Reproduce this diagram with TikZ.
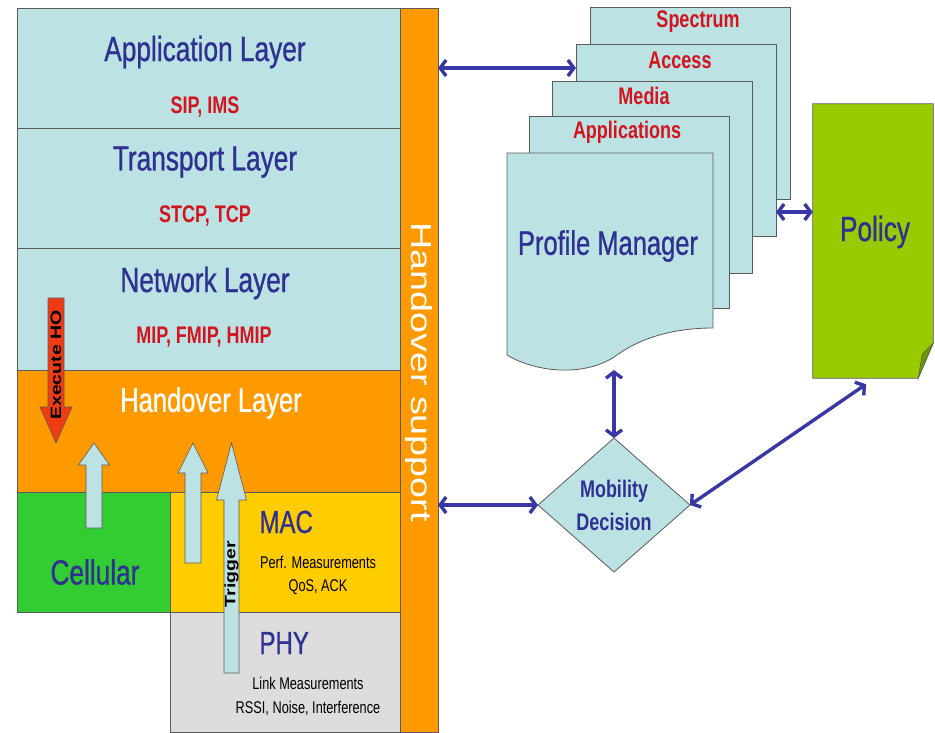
\documentclass[tikz,border=0pt]{standalone}
\usepackage{fontspec}
\setmainfont[FakeStretch=0.75]{Liberation Sans}
\newfontfamily\titlefont[FakeStretch=0.75,FakeBold=0.8]{Liberation Sans}
\newfontfamily\widefont[FakeStretch=1.3]{Liberation Sans}
\usetikzlibrary{shapes.geometric,arrows.meta}
\definecolor{layerblue}{RGB}{188,226,228}
\definecolor{hoorange}{RGB}{255,153,0}
\definecolor{cellgreen}{RGB}{51,204,51}
\definecolor{macyellow}{RGB}{255,204,0}
\definecolor{phygray}{RGB}{221,221,221}
\definecolor{polgreen}{RGB}{153,204,0}
\definecolor{foldgreen}{RGB}{110,150,0}
\definecolor{titleblue}{RGB}{46,49,146}
\definecolor{protored}{RGB}{210,20,30}
\definecolor{linkblue}{RGB}{55,55,165}
\definecolor{edgegray}{RGB}{90,90,90}
\definecolor{exred}{RGB}{240,60,20}
\newcommand{\tsize}[1]{\fontsize{#1}{#1}\selectfont}
\newcommand{\blockarrow}[7]{\filldraw[#1] ({#2-#6},#3) -- ({#2-#6},#4) -- ({#2-#7},#4) -- (#2,#5) -- ({#2+#7},#4) -- ({#2+#6},#4) -- ({#2+#6},#3) -- cycle;}

\begin{document}
\begin{tikzpicture}[x=1pt,y=-1pt,
    box/.style={draw=edgegray,line width=0.8pt,inner sep=0pt,outer sep=0pt},
    layer/.style={box,fill=layerblue,minimum width=383pt,minimum height=120pt},
    page/.style={box,fill=layerblue,minimum width=200pt,minimum height=192pt},
    title/.style={text=titleblue,font={\titlefont\tsize{35}}},
    proto/.style={text=protored,font={\bfseries\tsize{24}}},
    small/.style={text=black,font={\tsize{17}}},
    link/.style={draw=linkblue,line width=3.4pt,{Straight Barb[length=6pt,width=16pt]}-{Straight Barb[length=6pt,width=16pt]}}]
  \useasboundingbox (0,0) rectangle (935,732);

  % protocol stack
  \node[layer] (app) at (208.5,68) {};
  \node[layer] (trans) at (208.5,188) {};
  \node[layer,minimum height=122pt] (net) at (208.5,309) {};
  \node[layer,fill=hoorange,minimum height=122pt] (ho) at (208.5,431) {};
  \node[box,fill=cellgreen,minimum width=153pt,minimum height=120pt] (cell) at (93.5,552) {};
  \node[box,fill=macyellow,minimum width=230pt,minimum height=120pt] (mac) at (285,552) {};
  \node[box,fill=phygray,minimum width=230pt,minimum height=120pt] (phy) at (285,672) {};
  \node[box,fill=hoorange,minimum width=38pt,minimum height=724pt] (bar) at (419,370) {};

  \node[title] (apptxt) at (205,52) {Application Layer};
  \node[proto] (appsub) at (205,107) {SIP, IMS};
  \node[title] (transtxt) at (205,162) {Transport Layer};
  \node[proto] (transsub) at (205,216) {STCP, TCP};
  \node[title] (nettxt) at (205,283) {Network Layer};
  \node[proto] (netsub) at (204,337) {MIP, FMIP, HMIP};
  \node[title,text=white,font={\titlefont\tsize{34}}] (hotxt) at (211,403) {Handover Layer};
  \node[title] (celltxt) at (95,572) {Cellular};
  \node[title,anchor=west,font={\titlefont\tsize{32}}] (mactxt) at (256,522) {MAC};
  \node[small] (macsub1) at (318,562) {Perf. Measurements};
  \node[small] (macsub2) at (318,587) {QoS, ACK};
  \node[title,anchor=west,font={\titlefont\tsize{32}}] (phytxt) at (256,643) {PHY};
  \node[small] (physub1) at (308,683) {Link Measurements};
  \node[small] (physub2) at (308,708) {RSSI, Noise, Interference};
  \node[rotate=-90,text=white,font={\widefont\tsize{29}}] (bartxt) at (419,372) {Handover support};

  % block arrows
  \blockarrow{draw=edgegray,line width=0.6pt,fill=exred}{56}{298}{407}{443}{8}{16}
  \blockarrow{draw=edgegray,line width=0.6pt,fill=layerblue}{94}{528}{465}{443}{8}{15.5}
  \blockarrow{draw=edgegray,line width=0.6pt,fill=layerblue}{193}{563}{473}{443}{8}{15}
  \blockarrow{draw=edgegray,line width=0.6pt,fill=layerblue}{231.5}{673}{500}{443}{7.5}{15}
  \node[rotate=90,font={\widefont\bfseries\tsize{15}}] (exho) at (56,365) {Execute HO};
  \node[rotate=90,font={\widefont\bfseries\tsize{15}}] (trig) at (231.5,574) {Trigger};

  % profile pages
  \node[page] (spec) at (690.5,103.5) {};
  \node[page] (access) at (676,140.5) {};
  \node[page] (media) at (652.5,177) {};
  \node[page] (apps) at (629,212.5) {};
  \filldraw[draw=edgegray,line width=0.8pt,fill=layerblue] (507,153) -- (713,153) -- (713,328)
    .. controls (680,328) and (645,335) .. (617,355)
    .. controls (585,378) and (535,372) .. (507,355) -- cycle;
  \node[proto] (spectxt) at (698,22) {Spectrum};
  \node[proto] (acctxt) at (680,60) {Access};
  \node[proto] (medtxt) at (644,96) {Media};
  \node[proto] (apptxt2) at (627,132) {Applications};
  \node[title,font={\titlefont\tsize{34}}] (pm) at (608,246) {Profile Manager};
  \coordinate (pmbot) at (614,370);

  % policy
  \node[inner sep=0pt,minimum width=120pt,minimum height=274pt] (pol) at (873,241) {};
  \filldraw[draw=edgegray,line width=0.8pt,fill=polgreen] (pol.north west) -- (pol.north east)
    -- ([yshift=35pt]pol.south east) -- ([xshift=-15pt]pol.south east) -- (pol.south west) -- cycle;
  \filldraw[draw=edgegray,line width=0.5pt,fill=foldgreen] ([yshift=35pt]pol.south east)
    -- ([xshift=-11pt,yshift=24pt]pol.south east) -- ([xshift=-15pt]pol.south east) -- cycle;
  \node[title] (poltxt) at (875,232) {Policy};

  % decision
  \node[diamond,box,fill=layerblue,minimum width=152pt,minimum height=134pt,
    align=center,text=titleblue,font={\bfseries\fontsize{24}{33}\selectfont}] (dec) at (614,505) {Mobility\\Decision};

  % connectors
  \draw[link] (bar.east |- 0,68) -- (access.west |- 0,68);
  \draw[link] (access.east |- 0,212) -- (pol.west |- 0,212);
  \draw[link] (pmbot) -- (dec.north);
  \draw[link] (bar.east |- dec.west) -- (dec.west);
  \draw[link] (dec.east) -- ([xshift=-7pt,yshift=-6pt]pol.south);
\end{tikzpicture}
\end{document}
